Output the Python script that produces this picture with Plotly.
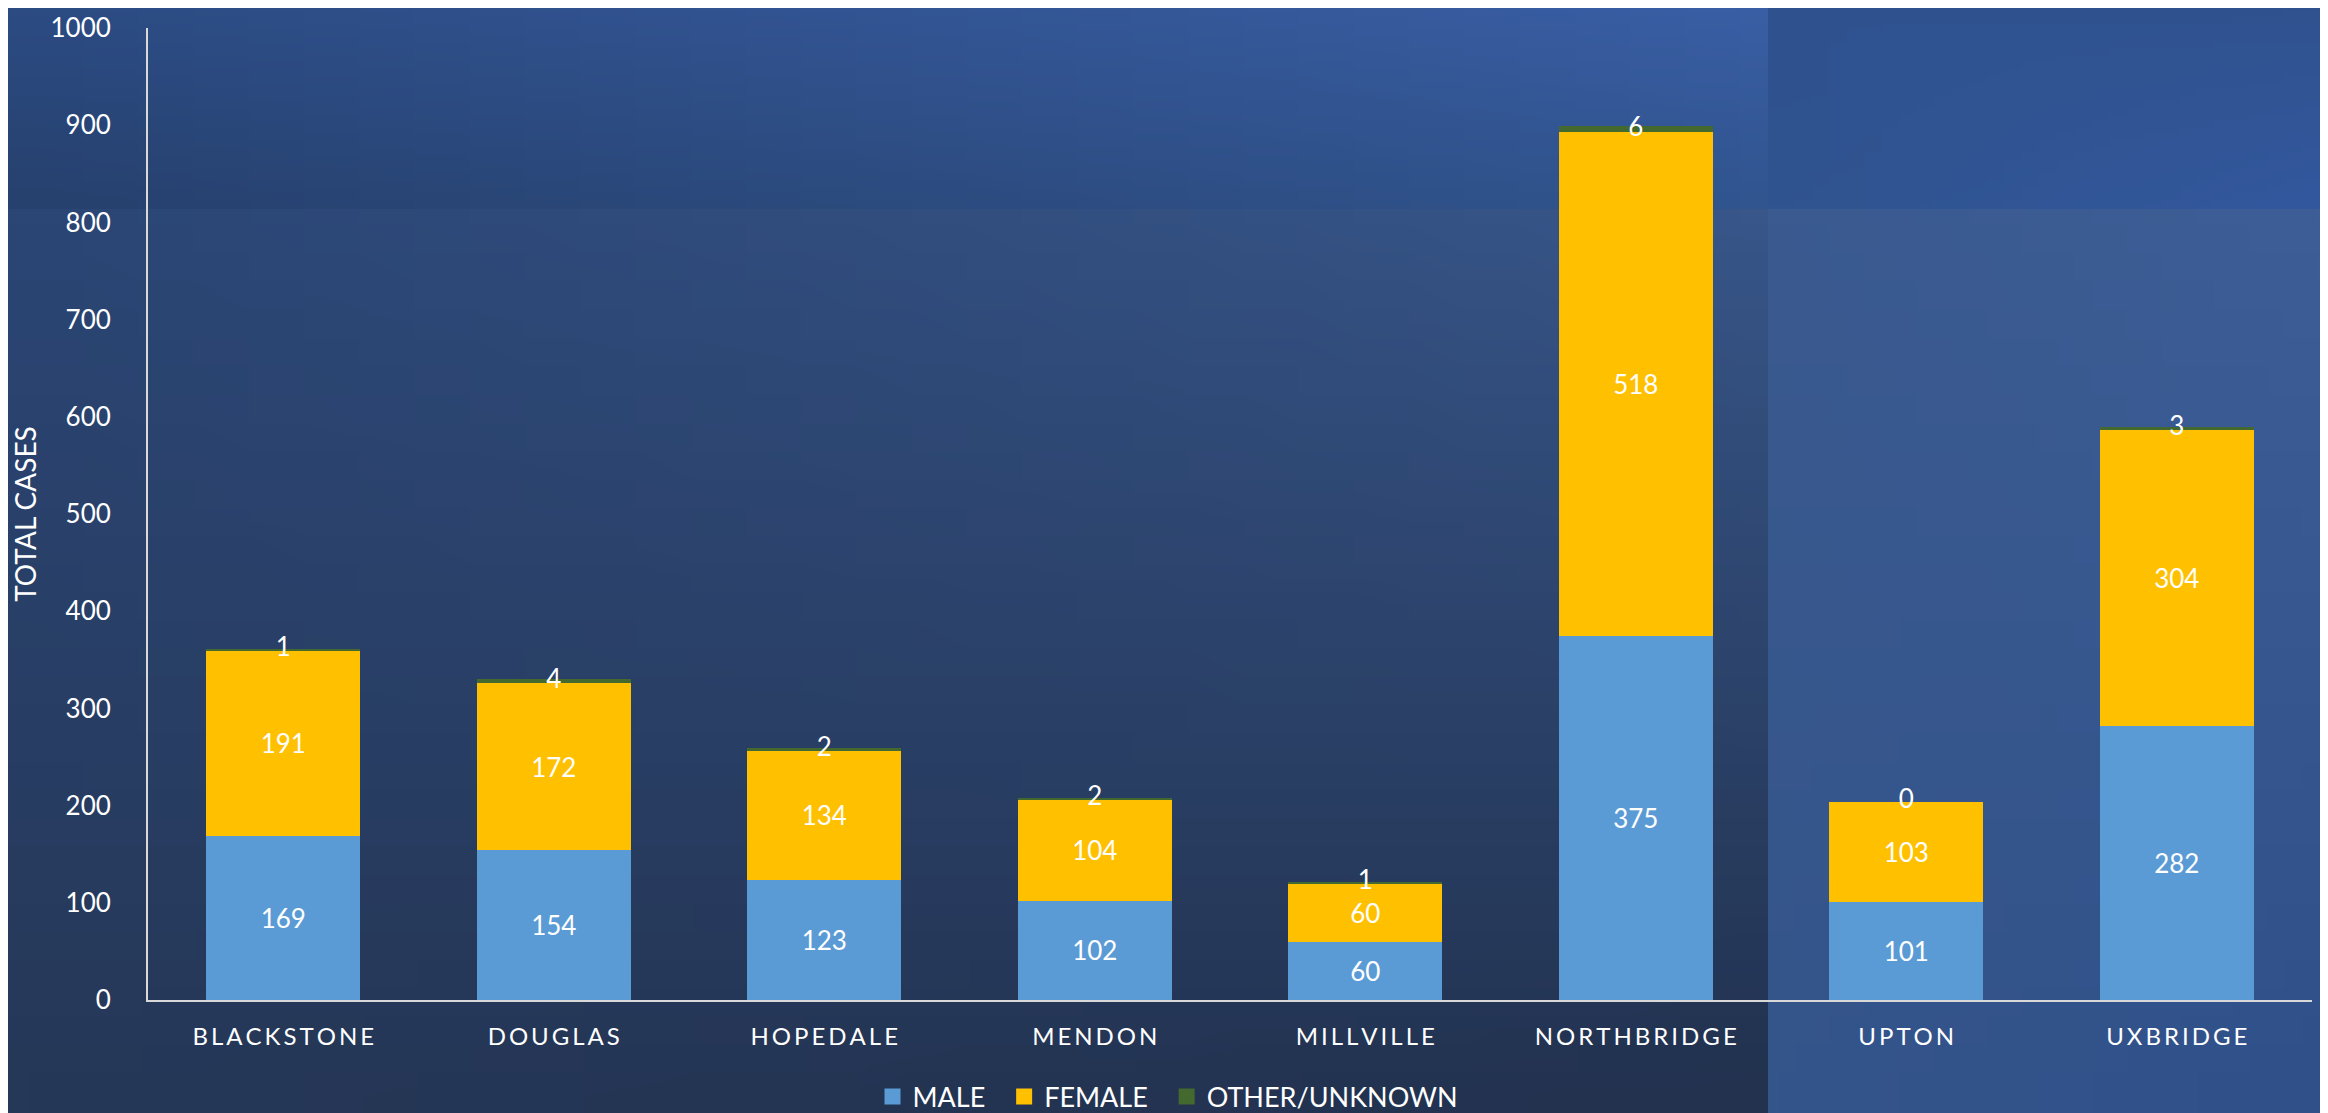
import base64, struct, zlib
import numpy as np
import plotly.graph_objects as go

towns = ["BLACKSTONE", "DOUGLAS", "HOPEDALE", "MENDON", "MILLVILLE", "NORTHBRIDGE", "UPTON", "UXBRIDGE"]
male = [169, 154, 123, 102, 60, 375, 101, 282]
female = [191, 172, 134, 104, 60, 518, 103, 304]
other = [1, 4, 2, 2, 1, 6, 0, 3]

OFF = 8  # page body margin offset
PAGE_W, PAGE_H = 2328, 1113
W, H = PAGE_W - OFF, PAGE_H - OFF
# plot area in page pixel coordinates
PX0, PX1, PY0, PY1 = 148, 2312, 28, 1000
L, R, T, B = PX0 - OFF, PAGE_W - PX1, PY0 - OFF, PAGE_H - PY1
PW, PH = PX1 - PX0, PY1 - PY0

FONT = "Lato"
C_MALE, C_FEMALE, C_OTHER = "#5b9bd5", "#ffc000", "#44692e"


def hex2rgb(h):
    h = h.lstrip("#")
    return np.array([int(h[i:i + 2], 16) for i in (0, 2, 4)], dtype=float)


def png_uri(tl, tr, bl, br, n=32):
    tl, tr, bl, br = map(hex2rgb, (tl, tr, bl, br))
    u = np.linspace(0, 1, n)[None, :, None]
    v = np.linspace(0, 1, n)[:, None, None]
    arr = (tl * (1 - u) * (1 - v) + tr * u * (1 - v) + bl * (1 - u) * v + br * u * v)
    arr = np.clip(arr, 0, 255).astype(np.uint8)
    h, w, _ = arr.shape
    raw = b"".join(b"\x00" + arr[y].tobytes() for y in range(h))

    def chunk(t, d):
        return struct.pack(">I", len(d)) + t + d + struct.pack(">I", zlib.crc32(t + d) & 0xFFFFFFFF)

    png = (b"\x89PNG\r\n\x1a\n" + chunk(b"IHDR", struct.pack(">IIBBBBB", w, h, 8, 2, 0, 0, 0))
           + chunk(b"IDAT", zlib.compress(raw)) + chunk(b"IEND", b""))
    return "data:image/png;base64," + base64.b64encode(png).decode()


def bg_image(x0, y0, x1, y1, cols):
    # page pixel coordinates -> paper coordinates
    return dict(
        source=png_uri(*cols), xref="paper", yref="paper",
        x=(x0 - PX0) / PW, y=1 - (y0 - PY0) / PH,
        sizex=(x1 - x0) / PW, sizey=(y1 - y0) / PH,
        xanchor="left", yanchor="top", sizing="stretch", layer="below",
    )


XS, YS = 1768, 209
images = [
    bg_image(0, 0, XS, YS, ("#2c4c84", "#3a5fa5", "#27416e", "#31558f")),
    bg_image(XS, 0, PAGE_W, YS, ("#2f5290", "#30528f", "#30548f", "#33589e")),
    bg_image(0, YS, XS, PAGE_H, ("#2b4675", "#385689", "#263858", "#22324f")),
    bg_image(XS, YS, PAGE_W, PAGE_H, ("#3a5a90", "#3d5e97", "#34558a", "#30508a")),
]

fig = go.Figure()
fig.add_trace(go.Bar(
    name="MALE", x=towns, y=male, marker_color=C_MALE, marker_line_width=0,
    text=male, textposition="inside", insidetextanchor="middle", textangle=0,
    textfont=dict(color="white", size=26, family=FONT), constraintext="none",
    showlegend=False,
))
fig.add_trace(go.Bar(
    name="FEMALE", x=towns, y=female, marker_color=C_FEMALE, marker_line_width=0,
    text=female, textposition="inside", insidetextanchor="middle", textangle=0,
    textfont=dict(color="white", size=26, family=FONT), constraintext="none",
    showlegend=False,
))
fig.add_trace(go.Bar(
    name="OTHER/UNKNOWN", x=towns, y=other, marker_color=C_OTHER, marker_line_width=0,
    showlegend=False,
))
label_y = [m + f + o / 2 for m, f, o in zip(male, female, other)]
fig.add_trace(go.Scatter(
    x=towns, y=label_y, text=[str(o) for o in other], mode="text",
    textposition="middle center", textfont=dict(color="white", size=26, family=FONT),
    showlegend=False, hoverinfo="skip",
))
# legend entries with larger square swatches
legend_items = [("MALE\u00a0\u00a0", C_MALE), ("FEMALE\u00a0\u00a0", C_FEMALE), ("OTHER/UNKNOWN", C_OTHER)]
for name, col in legend_items:
    fig.add_trace(go.Scatter(
        x=[None], y=[None], mode="markers", name=name,
        marker=dict(symbol="square", size=17, color=col), showlegend=True,
    ))

fig.update_layout(
    width=W, height=H,
    margin=dict(l=L, r=R, t=T, b=B, autoexpand=False),
    barmode="stack", bargap=0.43,
    paper_bgcolor="#27395d", plot_bgcolor="rgba(0,0,0,0)",
    images=images,
    font=dict(family=FONT, color="white"),
    legend=dict(
        orientation="h", xref="container", yref="container",
        x=0.5, xanchor="center", y=(H - (1097 - OFF)) / H, yanchor="middle",
        font=dict(size=27, color="white", family=FONT),
        traceorder="normal", bgcolor="rgba(0,0,0,0)", itemwidth=30,
    ),
    showlegend=True,
)
fig.update_xaxes(
    tickvals=towns, ticktext=["\u2009".join(t) for t in towns],
    tickfont=dict(size=24, color="white", family=FONT),
    showline=True, linecolor="#d9d9d9", linewidth=2, showgrid=False,
    ticks="", ticklabelstandoff=14, zeroline=False, automargin=False,
)
fig.update_yaxes(
    range=[0, 1000], dtick=100, tick0=0,
    tickfont=dict(size=26, color="white", family=FONT),
    showline=True, linecolor="#d9d9d9", linewidth=2, showgrid=False,
    ticks="", ticklabelstandoff=30, zeroline=False, automargin=False,
    ticklabeloverflow="allow",
    title=dict(text="TOTAL CASES", font=dict(size=28, color="white", family=FONT), standoff=10),
)

fig.write_html("out.html")
